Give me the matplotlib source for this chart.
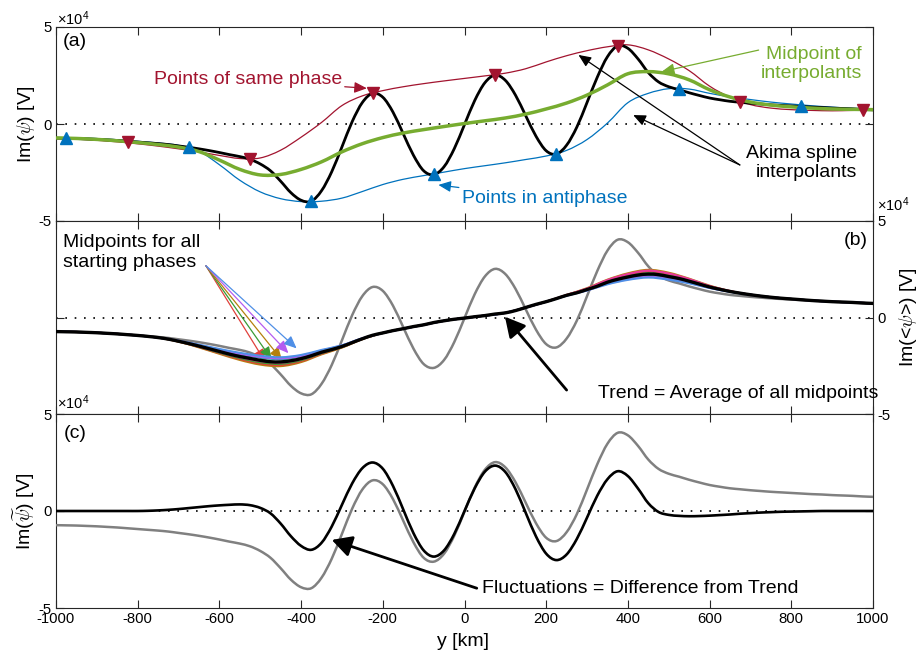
import numpy as np
import matplotlib
matplotlib.use('Agg')
import matplotlib.pyplot as plt
from matplotlib.path import Path
from matplotlib.patches import PathPatch

plt.rcParams['font.family'] = ['Liberation Sans', 'DejaVu Sans']
plt.rcParams['mathtext.fontset'] = 'cm'

# ---------------- data (values in units of 1e4 V) ----------------
# fine grid along the profile, km (step 25)
y_fine = np.arange(-1000, 1001, 25)
# coarse grid (step 50) for interpolants / midpoints
y_coarse = np.arange(-1000, 1001, 50)

trend = [-0.73, -0.74, -0.75, -0.77, -0.79, -0.82, -0.85, -0.89, -0.93, -0.98,
         -1.04, -1.12, -1.23, -1.35, -1.48, -1.62, -1.76, -1.90, -2.02, -2.12,
         -2.22, -2.29, -2.30, -2.24, -2.13, -1.98, -1.80, -1.66, -1.50, -1.30,
         -1.10, -0.92, -0.80, -0.68, -0.58, -0.47, -0.38, -0.26, -0.17, -0.09,
         -0.03, 0.04, 0.10, 0.18, 0.24, 0.36, 0.52, 0.68, 0.82, 0.98,
         1.15, 1.28, 1.45, 1.62, 1.83, 1.98, 2.10, 2.20, 2.25, 2.22,
         2.12, 2.02, 1.88, 1.73, 1.58, 1.46, 1.35, 1.26, 1.18, 1.11,
         1.05, 1.00, 0.96, 0.92, 0.88, 0.85, 0.82, 0.80, 0.78, 0.75, 0.73]

fluct = [0.00, 0.00, 0.00, 0.00, 0.00, 0.00, 0.00, 0.00, 0.00, 0.01,
         0.03, 0.06, 0.10, 0.15, 0.20, 0.25, 0.29, 0.32, 0.34, 0.30,
         0.16, -0.12, -0.65, -1.30, -1.80, -2.00, -1.64, -0.80, 0.32, 1.42,
         2.21, 2.50, 2.18, 1.29, 0.08, -1.14, -2.03, -2.35, -2.03, -1.18,
         0.00, 1.17, 2.03, 2.34, 2.01, 1.12, -0.10, -1.31, -2.20, -2.53,
         -2.24, -1.44, -0.34, 0.79, 1.64, 2.05, 1.80, 1.15, 0.40, -0.05,
         -0.20, -0.25, -0.27, -0.26, -0.24, -0.21, -0.18, -0.14, -0.11, -0.08,
         -0.06, -0.04, -0.03, -0.02, -0.01, 0.00, 0.00, 0.00, 0.00, 0.00, 0.00]

# upper (same phase) and lower (antiphase) Akima interpolants, on coarse grid
upper_interp = [-0.74, -0.78, -0.84, -0.92, -1.02, -1.14, -1.28, -1.44, -1.62, -1.78,
                -1.75, -1.35, -0.68, 0.08, 0.95, 1.45, 1.72, 1.92, 2.08, 2.22,
                2.35, 2.48, 2.62, 2.85, 3.20, 3.52, 3.78, 3.98, 4.08, 3.82,
                3.35, 2.75, 1.95, 1.38, 1.00, 0.82, 0.74, 0.70, 0.68, 0.70, 0.72]
lower_interp = [-0.70, -0.71, -0.75, -0.81, -0.89, -0.98, -1.10, -1.40, -2.10, -2.90,
                -3.50, -3.85, -4.00, -3.98, -3.82, -3.48, -3.12, -2.85, -2.66, -2.48,
                -2.30, -2.15, -2.00, -1.83, -1.65, -1.36, -0.80, 0.05, 1.10, 1.58,
                1.82, 1.80, 1.58, 1.40, 1.26, 1.13, 1.03, 0.94, 0.87, 0.81, 0.76]

# sample points
same_x = [-824, -525, -224, 75, 376, 675, 975]
same_v = [-0.92, -1.82, 1.58, 2.54, 4.03, 1.14, 0.71]
anti_x = [-975, -674, -376, -75, 224, 525, 824]
anti_v = [-0.73, -1.21, -3.98, -2.60, -1.55, 1.78, 0.92]

# midpoints for different starting phases: deviation from trend on coarse grid
phase_colors = ['#B5800E', '#E0413C', '#3A9B35', '#E6399B', '#18A3A3', '#B45CF0', '#4F8FE6']
phase_dev = [
    [0, 0, 0, 0, 0, 0, -0.02, -0.07, -0.12, -0.18, -0.22, -0.22, -0.18, -0.11, -0.06, -0.02,
     0, 0, 0, 0, 0, 0, 0, 0, 0, 0.02, 0.07, 0.13, 0.19, 0.22, 0.20, 0.13, 0.07, 0.02, 0, 0, 0, 0, 0, 0, 0],
    [0, 0, 0, 0, 0, 0, -0.02, -0.05, -0.09, -0.13, -0.16, -0.16, -0.13, -0.08, -0.04, -0.02,
     0, 0, 0, 0, 0, 0, 0, 0, 0, 0.01, 0.04, 0.08, 0.12, 0.14, 0.13, 0.08, 0.04, 0.01, 0, 0, 0, 0, 0, 0, 0],
    [0, 0, 0, 0, 0, 0, -0.01, -0.03, -0.06, -0.08, -0.10, -0.10, -0.08, -0.05, -0.03, -0.01,
     0, 0, 0, 0, 0, 0, 0, 0, 0, 0.00, 0.01, 0.02, 0.03, 0.04, 0.04, 0.02, 0.01, 0.00, 0, 0, 0, 0, 0, 0, 0],
    [0, 0, 0, 0, 0, 0, 0.00, -0.01, -0.02, -0.03, -0.04, -0.04, -0.03, -0.02, -0.01, 0.00,
     0, 0, 0, 0, 0, 0, 0, 0, 0, 0.02, 0.05, 0.11, 0.15, 0.18, 0.16, 0.11, 0.05, 0.02, 0, 0, 0, 0, 0, 0, 0],
    [0, 0, 0, 0, 0, 0, 0.01, 0.04, 0.08, 0.11, 0.14, 0.14, 0.11, 0.07, 0.04, 0.01,
     0, 0, 0, 0, 0, 0, 0, 0, 0, -0.01, -0.02, -0.04, -0.05, -0.06, -0.05, -0.04, -0.02, -0.01, 0, 0, 0, 0, 0, 0, 0],
    [0, 0, 0, 0, 0, 0, 0.02, 0.05, 0.10, 0.14, 0.18, 0.18, 0.14, 0.09, 0.05, 0.02,
     0, 0, 0, 0, 0, 0, 0, 0, 0, -0.01, -0.04, -0.08, -0.12, -0.14, -0.13, -0.08, -0.04, -0.01, 0, 0, 0, 0, 0, 0, 0],
    [0, 0, 0, 0, 0, 0, 0.02, 0.07, 0.13, 0.19, 0.24, 0.24, 0.19, 0.12, 0.06, 0.02,
     0, 0, 0, 0, 0, 0, 0, 0, 0, -0.02, -0.05, -0.11, -0.15, -0.18, -0.16, -0.11, -0.05, -0.02, 0, 0, 0, 0, 0, 0, 0],
]

x_ticks = [-1000, -800, -600, -400, -200, 0, 200, 400, 600, 800, 1000]
y_ticks = [-5, 0, 5]

trend_a = np.array(trend)
fluct_a = np.array(fluct)
signal = trend_a + fluct_a
midpoint = (np.array(upper_interp) + np.array(lower_interp)) / 2.0
trend_coarse = trend_a[::2]

# ---------------- colours ----------------
C_RED = '#A2142F'
C_BLUE = '#0072BD'
C_GREEN = '#77AC30'
C_GRAY = '#808080'
C_AX = '#262626'


def smooth_line(ax, x, y, color, lw, zorder):
    """Draw a line through the data points as a smooth Bezier path (rendering only)."""
    pts = np.column_stack([np.asarray(x, float), np.asarray(y, float)])
    ext = np.vstack([2 * pts[0] - pts[1], pts, 2 * pts[-1] - pts[-2]])
    verts = [pts[0]]
    codes = [Path.MOVETO]
    for i in range(len(pts) - 1):
        p0, p1, p2, p3 = ext[i], ext[i + 1], ext[i + 2], ext[i + 3]
        verts += [p1 + (p2 - p0) / 6.0, p2 - (p3 - p1) / 6.0, p2]
        codes += [Path.CURVE4] * 3
    patch = PathPatch(Path(verts, codes), fill=False, edgecolor=color, lw=lw,
                      zorder=zorder, capstyle='round', joinstyle='round')
    ax.add_patch(patch)


fig = plt.figure(figsize=(9.17, 6.54), dpi=100)
L = 56 / 917
W = 817 / 917
ax_a = fig.add_axes([L, 1 - 221 / 654, W, 194 / 654])
ax_b = fig.add_axes([L, 1 - 414 / 654, W, 193 / 654])
ax_c = fig.add_axes([L, 1 - 608 / 654, W, 194 / 654])


def style(ax, right=False, xlabels=False):
    ax.set_xlim(-1000, 1000)
    ax.set_ylim(-5, 5)
    ax.set_xticks(x_ticks)
    ax.set_xticklabels([str(t) for t in x_ticks])
    ax.set_yticks(y_ticks)
    ax.set_yticklabels([str(t) for t in y_ticks])
    ax.tick_params(direction='in', length=6, width=0.8, top=True, bottom=True,
                   left=True, right=True, color=C_AX, labelsize=10.7, pad=3)
    ax.tick_params(labelbottom=xlabels, labelleft=not right, labelright=right)
    for s in ax.spines.values():
        s.set_color(C_AX)
        s.set_linewidth(0.8)
    ax.axhline(0, color='black', ls=(0, (1.0, 4.6)), lw=1.2, zorder=1)


style(ax_a)
style(ax_b, right=True)
style(ax_c, xlabels=True)

thin = lambda c: dict(arrowstyle='-|>,head_length=0.5,head_width=0.22', color=c, lw=0.9,
                      shrinkA=0, shrinkB=0, mutation_scale=15)
thick = dict(arrowstyle='-|>,head_length=0.6,head_width=0.32', color='black', lw=2.0,
             shrinkA=0, shrinkB=0, mutation_scale=20)

# ---------------- panel (a) ----------------
smooth_line(ax_a, y_coarse, upper_interp, C_RED, 0.9, 3)
smooth_line(ax_a, y_coarse, lower_interp, C_BLUE, 0.9, 3)
smooth_line(ax_a, y_fine, signal, 'black', 2.0, 4)
smooth_line(ax_a, y_coarse, midpoint, C_GREEN, 2.5, 5)
ax_a.plot(same_x, same_v, 'v', color=C_RED, ms=8.5, ls='none', zorder=6)
ax_a.plot(anti_x, anti_v, '^', color=C_BLUE, ms=8.5, ls='none', zorder=6)
ax_a.text(0.008, 0.923, '(a)', transform=ax_a.transAxes, fontsize=14, va='center', ha='left')
ax_a.set_ylabel(r'Im($\psi$) [V]', fontsize=14)
ax_a.yaxis.set_label_coords(-0.023, 0.5)

ax_a.annotate('Points of same phase', xy=(-239, 1.84), xytext=(-300, 2.27),
              color=C_RED, fontsize=14, ha='right', va='center', arrowprops=thin(C_RED))
ax_a.annotate('Points in antiphase', xy=(-64, -3.14), xytext=(-7, -3.83),
              color=C_BLUE, fontsize=14, ha='left', va='center', arrowprops=thin(C_BLUE))
ax_a.annotate('', xy=(483, 2.70), xytext=(720, 3.81), arrowprops=thin(C_GREEN))
ax_a.text(973, 3.10, 'Midpoint of\ninterpolants', color=C_GREEN, fontsize=14,
          ha='right', va='center', linespacing=1.15)
ax_a.annotate('', xy=(279, 3.56), xytext=(674, -2.11), arrowprops=thin('black'))
ax_a.annotate('', xy=(413, 0.46), xytext=(674, -2.11), arrowprops=thin('black'))
ax_a.text(961, -2.03, 'Akima spline\ninterpolants', color='black', fontsize=14,
          ha='right', va='center', linespacing=1.15)

# ---------------- panel (b) ----------------
smooth_line(ax_b, y_fine, signal, C_GRAY, 1.8, 3)
for col, dev in zip(phase_colors, phase_dev):
    smooth_line(ax_b, y_coarse, trend_coarse + np.array(dev), col, 1.5, 4)
smooth_line(ax_b, y_fine, trend, 'black', 2.4, 5)
ax_b.text(0.993, 0.90, '(b)', transform=ax_b.transAxes, fontsize=14, va='center', ha='right')
ax_b.yaxis.set_label_position('right')
ax_b.set_ylabel(r'Im(<$\psi$>) [V]', fontsize=14)
ax_b.yaxis.set_label_coords(1.029, 0.5)
ax_b.text(-982, 3.37, 'Midpoints for all\nstarting phases', fontsize=14, ha='left',
          va='center', linespacing=1.2)
tips = [(-488, -2.29), (-472, -2.17), (-447, -2.20), (-431, -1.85), (-411, -1.60)]
tip_cols = ['#E0413C', '#3A9B35', '#B5800E', '#B45CF0', '#4F8FE6']
for (tx, ty), col in zip(tips, tip_cols):
    ax_b.annotate('', xy=(tx, ty), xytext=(-633, 2.68), arrowprops=thin(col))
ax_b.annotate('', xy=(99, 0.04), xytext=(250, -3.76), arrowprops=thick)
ax_b.text(327, -3.93, 'Trend = Average of all midpoints', fontsize=14, ha='left', va='center')

# ---------------- panel (c) ----------------
smooth_line(ax_c, y_fine, signal, C_GRAY, 1.8, 3)
smooth_line(ax_c, y_fine, fluct, 'black', 1.9, 4)
ax_c.text(0.009, 0.902, '(c)', transform=ax_c.transAxes, fontsize=14, va='center', ha='left')
ax_c.set_ylabel(r'Im($\widetilde{\psi}$) [V]', fontsize=14)
ax_c.yaxis.set_label_coords(-0.023, 0.5)
ax_c.annotate('', xy=(-325, -1.49), xytext=(30, -3.98), arrowprops=thick)
ax_c.text(42, -3.98, 'Fluctuations = Difference from Trend', fontsize=14, ha='left', va='center')
ax_c.set_xlabel('y [km]', fontsize=14)
ax_c.xaxis.set_label_coords(0.498, -0.13)

# offset texts (x 10^4)
for px, py in [(57, 19), (877, 205), (57, 403)]:
    fig.text(px / 917, 1 - py / 654, '\u00d710$^{\\mathregular{4}}$', fontsize=10.5,
             ha='left', va='center')

fig.savefig('out.png', dpi=100)
